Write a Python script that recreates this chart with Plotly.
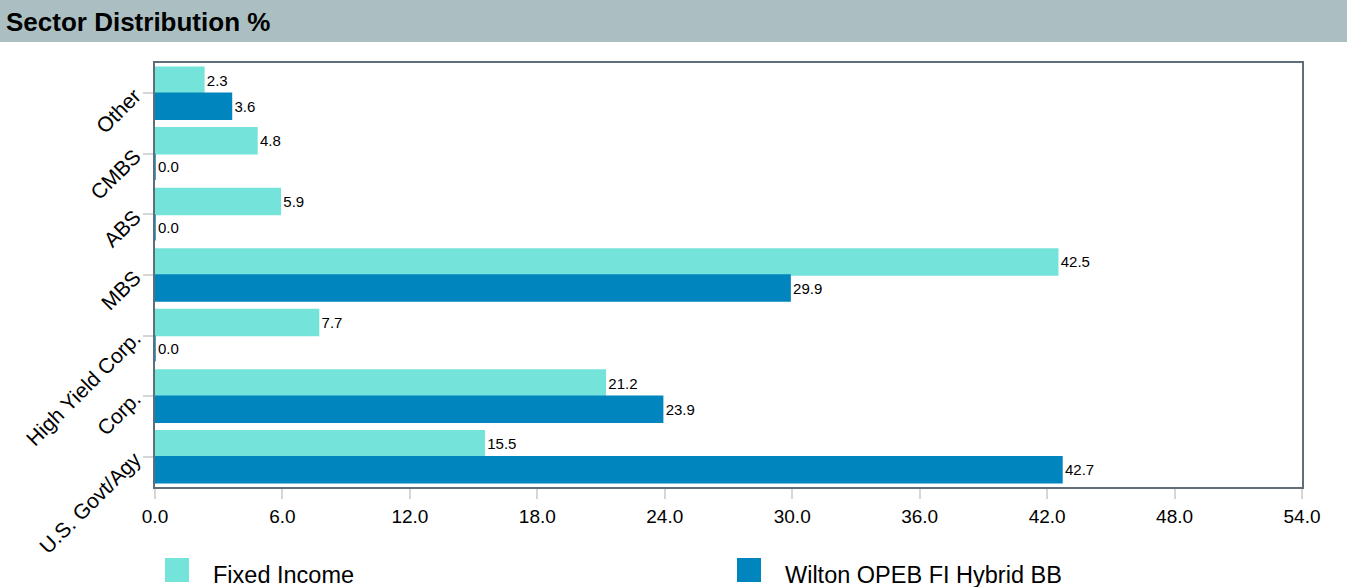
import plotly.graph_objects as go

categories = ["Other", "CMBS", "ABS", "MBS", "High Yield Corp.", "Corp.", "U.S. Govt/Agy"]
fixed_income = [2.3, 4.8, 5.9, 42.5, 7.7, 21.2, 15.5]
wilton = [3.6, 0.0, 0.0, 29.9, 0.0, 23.9, 42.7]
series_names = ["Fixed Income", "Wilton OPEB FI Hybrid BB"]
series_colors = ["#74e3d9", "#0085be"]
x_ticks = [0, 6, 12, 18, 24, 30, 36, 42, 48, 54]
x_tick_labels = [f"{v:.1f}" for v in x_ticks]

W, H = 1347, 587
ML, MR, MT, MB = 155, 45, 63, 100
PW, PH = W - ML - MR, H - MT - MB

def px_x(p):
    return (p - ML) / PW

def px_y(p):
    return (H - MB - p) / PH

FONT = "Liberation Sans, Arial, Helvetica, sans-serif"

fig = go.Figure()
for name, vals, col in zip(series_names, [fixed_income, wilton], series_colors):
    fig.add_trace(go.Bar(
        y=categories, x=vals, name=name, orientation="h",
        marker=dict(color=col, line=dict(color=col, width=1.5)),
        texttemplate="%{x:.1f}", textposition="outside", cliponaxis=False,
        textfont=dict(size=15, color="#000000", family=FONT),
        showlegend=False,
    ))

# title band
fig.add_shape(type="rect", xref="paper", yref="paper",
              x0=px_x(0), x1=px_x(W), y0=px_y(42), y1=px_y(0),
              fillcolor="#abbfc2", line=dict(width=0), layer="below")
fig.add_annotation(text="<b>Sector Distribution %</b>", xref="paper", yref="paper",
                   x=px_x(4), y=px_y(22), xanchor="left", yanchor="middle",
                   showarrow=False, font=dict(size=26, color="#000000", family=FONT))

# legend (drawn manually to match the large swatches)
legend_swatch_x = [165, 737]
for name, col, sx in zip(series_names, series_colors, legend_swatch_x):
    fig.add_shape(type="rect", xref="paper", yref="paper",
                  x0=px_x(sx), x1=px_x(sx + 24), y0=px_y(582), y1=px_y(558),
                  fillcolor=col, line=dict(width=0))
    fig.add_annotation(text=name, xref="paper", yref="paper",
                       x=px_x(sx + 46), y=px_y(575), xanchor="left", yanchor="middle",
                       showarrow=False, font=dict(size=23.5, color="#000000", family=FONT))

fig.update_layout(
    width=W, height=H,
    margin=dict(l=ML, r=MR, t=MT, b=MB),
    paper_bgcolor="white", plot_bgcolor="white",
    barmode="group", bargap=0.14, bargroupgap=0.0,
    font=dict(family=FONT, color="#000000"),
    showlegend=False,
)
fig.update_xaxes(range=[0, 54], tickvals=x_ticks, ticktext=x_tick_labels,
                 showgrid=False, zeroline=False,
                 showline=True, linecolor="#5f6e78", linewidth=2, mirror=True,
                 ticks="outside", ticklen=10, tickcolor="#d6d6d6", tickwidth=2,
                 ticklabelstandoff=1,
                 tickfont=dict(size=19, color="#000000", family=FONT))
fig.update_yaxes(autorange="reversed", showgrid=False, zeroline=False,
                 showline=True, linecolor="#5f6e78", linewidth=2, mirror=True,
                 ticks="outside", ticklen=10, tickcolor="#d6d6d6", tickwidth=2,
                 tickangle=-45, ticklabelstandoff=4,
                 tickfont=dict(size=21, color="#000000", family=FONT))

fig.write_html("out.html", config={"displayModeBar": False},
               post_script="document.body.style.margin='0px';")
